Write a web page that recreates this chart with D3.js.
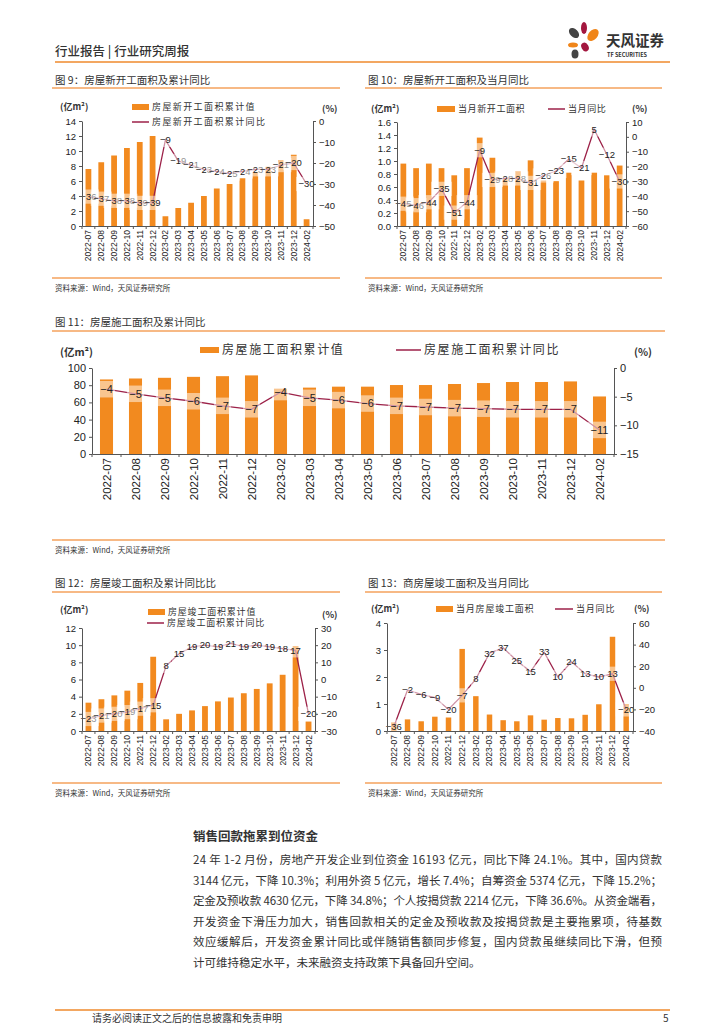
<!DOCTYPE html>
<html lang="zh">
<head>
<meta charset="utf-8">
<script src="https://d3js.org/d3.v7.min.js"></script>
<style>
  body { margin: 0; background: #fff; }
  svg text { font-family: "Noto Sans CJK SC", "Liberation Sans", sans-serif; fill: #333; }
  .axis text { font-family: "Liberation Sans", Arial, sans-serif; fill: #222; }
  .axis path, .axis line { stroke: #555; }
  .lbl { font-family: "Liberation Sans", Arial, sans-serif; fill: #222; }
</style>
</head>
<body>
<svg id="page" width="724" height="1024"></svg>
<script>
// ---- data ----
var months = ["2022-07","2022-08","2022-09","2022-10","2022-11","2022-12","2023-02","2023-03","2023-04",
  "2023-05","2023-06","2023-07","2023-08","2023-09","2023-10","2023-11","2023-12","2024-02"];

var newStartCum = [7.6,8.5,9.4,10.4,11.2,12.0,1.3,2.4,3.1,4.0,5.0,5.6,6.4,7.2,7.9,8.8,9.5,0.9];
var newStartCumYoy = [-36,-37,-38,-38,-39,-39,-9,-19,-21,-23,-24,-25,-24,-23,-23,-21,-20,-30];

var newStartMonth = [0.96,0.89,0.96,0.89,0.78,0.89,1.36,1.05,0.72,0.84,1.01,0.70,0.69,0.82,0.70,0.82,0.78,0.93];
var newStartMonthYoy = [-45,-46,-44,-35,-51,-44,-9,-29,-28,-28,-31,-26,-23,-15,-21,5,-12,-30];

var underCum = [86.7,87.8,88.6,89.7,90.5,91.4,76.0,77.2,78.3,78.3,80.2,80.2,81.4,82.5,83.7,83.7,84.4,66.9];
var underCumYoy = [-3.7,-4.5,-5.2,-5.8,-6.6,-7.2,-4.2,-5.2,-5.6,-6.2,-6.6,-6.8,-7.0,-7.1,-7.2,-7.2,-7.2,-10.8];

var doneCum = [3.3,3.7,4.15,4.7,5.6,8.65,1.36,2.0,2.4,2.9,3.45,3.9,4.4,4.9,5.55,6.55,9.9,1.1];
var doneCumYoy = [-23,-21,-20,-19,-17,-15,8,15,19,20,19,21,19,20,19,18,17,-20];

var doneMonth = [0.32,0.43,0.36,0.53,0.50,3.04,1.29,0.61,0.40,0.36,0.58,0.42,0.48,0.47,0.60,0.99,3.49,1.0];
var doneMonthYoy = [-36,-2,-6,-9,-20,-7,8,32,37,25,15,33,10,24,13,10,13,-20];

var paragraph = [
  "24 年 1-2 月份，房地产开发企业到位资金 16193 亿元，同比下降 24.1%。其中，国内贷款",
  "3144 亿元，下降 10.3%；利用外资 5 亿元，增长 7.4%；自筹资金 5374 亿元，下降 15.2%；",
  "定金及预收款 4630 亿元，下降 34.8%；个人按揭贷款 2214 亿元，下降 36.6%。从资金端看，",
  "开发资金下滑压力加大，销售回款相关的定金及预收款及按揭贷款是主要拖累项，待基数",
  "效应缓解后，开发资金累计同比或伴随销售额同步修复，国内贷款虽继续同比下滑，但预",
  "计可维持稳定水平，未来融资支持政策下具备回升空间。"
];

var barColor = "#f28a1f",
    lineColor = "#9c2148",
    sepColor = "#f4a25c";

var svg = d3.select("#page");

// ---- page header ----
svg.append("text").attr("x", 55).attr("y", 56).text("行业报告 | 行业研究周报")
  .attr("font-size", 12.5).attr("font-weight", 500).attr("fill", "#333");
svg.append("line").attr("x1", 55).attr("x2", 670).attr("y1", 62).attr("y2", 62)
  .attr("stroke", "#ef8a2c").attr("stroke-width", 1.5);

// logo
var logo = svg.append("g");
logo.append("ellipse").attr("cx", 574).attr("cy", 33).attr("rx", 4).attr("ry", 6).attr("fill", "#444")
  .attr("transform", "rotate(-45,574,33)");
logo.append("ellipse").attr("cx", 584).attr("cy", 28).attr("rx", 3).attr("ry", 6).attr("fill", "#a3173f");
logo.append("ellipse").attr("cx", 593).attr("cy", 35).attr("rx", 4.5).attr("ry", 7).attr("fill", "#f08519")
  .attr("transform", "rotate(40,593,35)");
logo.append("ellipse").attr("cx", 573).attr("cy", 45).attr("rx", 5).attr("ry", 2.5).attr("fill", "#f08519");
logo.append("ellipse").attr("cx", 585).attr("cy", 47).attr("rx", 3.5).attr("ry", 4.5).attr("fill", "#a3173f")
  .attr("transform", "rotate(-30,585,47)");
logo.append("ellipse").attr("cx", 575).attr("cy", 54).attr("rx", 3.5).attr("ry", 4.5).attr("fill", "#444");
logo.append("text").attr("x", 606).attr("y", 46).text("天风证券")
  .attr("font-size", 14.5).attr("font-weight", 700).attr("fill", "#333");
logo.append("text").attr("x", 607).attr("y", 57).text("TF SECURITIES")
  .attr("font-size", 5.5).attr("font-weight", 700).attr("fill", "#333")
  .attr("font-family", "Liberation Sans, sans-serif");

// ---- chart helper ----
function frame(o) {
  svg.append("text").attr("x", o.tx).attr("y", o.ty + 4).text(o.title).attr("font-size", 10.5).attr("fill", "#444");
  svg.append("line").attr("x1", o.lx0).attr("x2", o.lx1).attr("y1", o.l1).attr("y2", o.l1)
    .attr("stroke", sepColor).attr("stroke-width", 1.5);
  svg.append("line").attr("x1", o.lx0).attr("x2", o.lx1).attr("y1", o.l2).attr("y2", o.l2)
    .attr("stroke", sepColor).attr("stroke-width", 1.5);
  svg.append("text").attr("x", o.tx).attr("y", o.l2 + 13).text("资料来源：Wind，天风证券研究所")
    .attr("font-size", 7.5).attr("fill", "#555");
}

function drawChart(o) {
  var g = svg.append("g");
  var x = d3.scaleBand().domain(months).range([o.x0, o.x1]).paddingInner(o.pad).paddingOuter(o.pad / 2);
  var yL = d3.scaleLinear().domain(o.left).range([o.yBot, o.yTop]);
  var yR = d3.scaleLinear().domain(o.right).range([o.yBot, o.yTop]);
  var fs = o.fs || 9.5;

  g.selectAll("rect.bar").data(o.bars).enter().append("rect")
    .attr("x", function (d, i) { return x(months[i]); })
    .attr("y", function (d) { return yL(d); })
    .attr("width", x.bandwidth())
    .attr("height", function (d) { return yL(0) - yL(d); })
    .attr("fill", barColor);

  var line = d3.line()
    .x(function (d, i) { return x(months[i]) + x.bandwidth() / 2; })
    .y(function (d) { return yR(d); });
  g.append("path").datum(o.line).attr("d", line)
    .attr("fill", "none").attr("stroke", lineColor).attr("stroke-width", 1.3);

  // value labels with pale box
  var fmt = d3.format(".0f");
  var lab = g.selectAll("g.lab").data(o.line).enter().append("g")
    .attr("transform", function (d, i) {
      return "translate(" + (x(months[i]) + x.bandwidth() / 2) + "," + yR(d) + ")";
    });
  lab.append("rect")
    .attr("x", function (d) { return -(fmt(d).length * fs * 0.3) - 2; })
    .attr("y", -fs * 0.75)
    .attr("width", function (d) { return fmt(d).length * fs * 0.6 + 4; })
    .attr("height", fs * 1.5)
    .attr("fill", "#fff").attr("opacity", 0.5);
  lab.append("text").attr("class", "lbl")
    .attr("text-anchor", "middle").attr("dy", "0.35em")
    .attr("font-size", fs)
    .text(function (d) { return fmt(d); });

  // axes
  var ax = g.append("g").attr("class", "axis").attr("transform", "translate(" + o.x0 + ",0)")
    .call(d3.axisLeft(yL).tickValues(o.leftTicks).tickSize(3).tickSizeOuter(0).tickFormat(o.lfmt || d3.format("d")));
  ax.selectAll("text").attr("font-size", o.afs || 9.5);
  var ar = g.append("g").attr("class", "axis").attr("transform", "translate(" + o.x1 + ",0)")
    .call(d3.axisRight(yR).tickValues(o.rightTicks).tickSize(3).tickSizeOuter(0).tickFormat(d3.format("d")));
  ar.selectAll("text").attr("font-size", o.afs || 9.5);

  var axb = g.append("g").attr("class", "axis").attr("transform", "translate(0," + o.yBot + ")")
    .call(d3.axisBottom(x).tickSize(0).tickSizeOuter(0));
  axb.selectAll("text")
    .attr("font-size", o.xfs || 8.5)
    .attr("text-anchor", "end")
    .attr("transform", "rotate(-90)")
    .attr("x", -4).attr("y", 0).attr("dy", "0.35em");
  // boundary ticks
  var step = x.step();
  g.selectAll("line.bt").data(months.concat(["end"])).enter().append("line")
    .attr("x1", function (d, i) { return o.x0 + step * i; })
    .attr("x2", function (d, i) { return o.x0 + step * i; })
    .attr("y1", o.yBot).attr("y2", o.yBot + 3)
    .attr("stroke", "#555");

  // legend
  var lf = o.lfs || 9;
  svg.append("rect").attr("x", o.lb[0]).attr("y", o.lb[1] - 3).attr("width", o.lb[2]).attr("height", 6)
    .attr("fill", barColor);
  svg.append("text").attr("x", o.lb[0] + o.lb[2] + 3).attr("y", o.lb[1]).attr("dy", "0.35em")
    .attr("font-size", lf).attr("letter-spacing", o.ls || 0).text(o.barName);
  svg.append("line").attr("x1", o.ll[0]).attr("x2", o.ll[0] + o.ll[2]).attr("y1", o.ll[1]).attr("y2", o.ll[1])
    .attr("stroke", lineColor).attr("stroke-width", 1.5);
  svg.append("text").attr("x", o.ll[0] + o.ll[2] + 3).attr("y", o.ll[1]).attr("dy", "0.35em")
    .attr("font-size", lf).attr("letter-spacing", o.ls || 0).text(o.lineName);
  svg.append("text").attr("x", o.unitL[0]).attr("y", o.unitL[1]).attr("dy", "0.35em")
    .attr("font-size", o.ufs || 9).attr("font-weight", 700).attr("fill", "#222").text("(亿m²)");
  svg.append("text").attr("x", o.unitR[0]).attr("y", o.unitR[1]).attr("dy", "0.35em")
    .attr("font-size", o.ufs || 9).attr("font-weight", 700).attr("fill", "#222").text("(%)");
}

// ---- figure 9 ----
frame({ title: "图 9：房屋新开工面积及累计同比", tx: 55, ty: 80, lx0: 52, lx1: 340, l1: 88, l2: 278 });
drawChart({
  x0: 82, x1: 313, yTop: 121, yBot: 226, pad: 0.55, ls: 1.4,
  left: [0, 14], leftTicks: d3.range(0, 15, 2), right: [-50, 0], rightTicks: d3.range(-50, 1, 10),
  bars: newStartCum, line: newStartCumYoy,
  barName: "房屋新开工面积累计值", lineName: "房屋新开工面积累计同比",
  lb: [132, 107, 17], ll: [132, 122, 17], unitL: [60, 107], unitR: [322, 109]
});

// ---- figure 10 ----
frame({ title: "图 10：房屋新开工面积及当月同比", tx: 368, ty: 80, lx0: 365, lx1: 662, l1: 88, l2: 278 });
drawChart({
  x0: 397, x1: 626, yTop: 122, yBot: 226, pad: 0.55, ls: 0.6,
  left: [0, 1.6], leftTicks: d3.range(0, 1.61, 0.2), lfmt: d3.format(".1f"),
  right: [-60, 10], rightTicks: d3.range(-60, 11, 10),
  bars: newStartMonth, line: newStartMonthYoy,
  barName: "当月新开工面积", lineName: "当月同比",
  lb: [437, 109, 18], ll: [548, 109, 17], unitL: [371, 109], unitR: [632, 109]
});

// ---- figure 11 ----
frame({ title: "图 11：房屋施工面积及累计同比", tx: 55, ty: 322, lx0: 52, lx1: 665, l1: 331, l2: 540 });
drawChart({
  x0: 92, x1: 614, yTop: 368, yBot: 454, pad: 0.55, fs: 11, afs: 11, xfs: 11.5, lfs: 12, ufs: 10.5, ls: 1.6,
  left: [0, 100], leftTicks: d3.range(0, 101, 20), right: [-15, 0], rightTicks: d3.range(-15, 1, 5),
  bars: underCum, line: underCumYoy,
  barName: "房屋施工面积累计值", lineName: "房屋施工面积累计同比",
  lb: [200, 350, 19], ll: [396, 350, 25], unitL: [60, 352], unitR: [634, 352]
});

// ---- figure 12 ----
frame({ title: "图 12：房屋竣工面积及累计同比比", tx: 55, ty: 583, lx0: 52, lx1: 340, l1: 592, l2: 783 });
drawChart({
  x0: 82, x1: 315, yTop: 628, yBot: 731, pad: 0.55, ls: 0.8,
  left: [0, 12], leftTicks: d3.range(0, 13, 2), right: [-30, 30], rightTicks: d3.range(-30, 31, 10),
  bars: doneCum, line: doneCumYoy,
  barName: "房屋竣工面积累计值", lineName: "房屋竣工面积累计同比",
  lb: [148, 612, 17], ll: [147, 623, 17], unitL: [60, 610], unitR: [322, 615]
});

// ---- figure 13 ----
frame({ title: "图 13：商房屋竣工面积及当月同比", tx: 368, ty: 583, lx0: 365, lx1: 662, l1: 592, l2: 783 });
drawChart({
  x0: 387, x1: 633, yTop: 623, yBot: 731, pad: 0.6, ls: 0.8,
  left: [0, 4], leftTicks: d3.range(0, 5, 1), right: [-40, 60], rightTicks: d3.range(-40, 61, 20),
  bars: doneMonth, line: doneMonthYoy,
  barName: "当月房屋竣工面积", lineName: "当月同比",
  lb: [436, 609, 17], ll: [555, 609, 18], unitL: [371, 609], unitR: [634, 609]
});

// ---- text section ----
svg.append("text").attr("x", 193).attr("y", 841).text("销售回款拖累到位资金")
  .attr("font-size", 12.5).attr("font-weight", 700).attr("fill", "#333");
svg.selectAll("text.para").data(paragraph).enter().append("text")
  .attr("class", "para")
  .attr("x", 193)
  .attr("y", function (d, i) { return 864 + i * 20.6; })
  .attr("font-size", 11.5).attr("fill", "#444")
  .attr("textLength", function (d, i) { return i < paragraph.length - 1 ? 469 : null; })
  .attr("lengthAdjust", "spacing")
  .text(function (d) { return d; });

// ---- footer ----
svg.append("line").attr("x1", 55).attr("x2", 670).attr("y1", 1010).attr("y2", 1010)
  .attr("stroke", "#ef8a2c").attr("stroke-width", 1.5);
svg.append("text").attr("x", 92).attr("y", 1022).text("请务必阅读正文之后的信息披露和免责申明")
  .attr("font-size", 10).attr("fill", "#333");
svg.append("text").attr("x", 663).attr("y", 1022).text("5")
  .attr("font-size", 10).attr("fill", "#333");
</script>
</body>
</html>
